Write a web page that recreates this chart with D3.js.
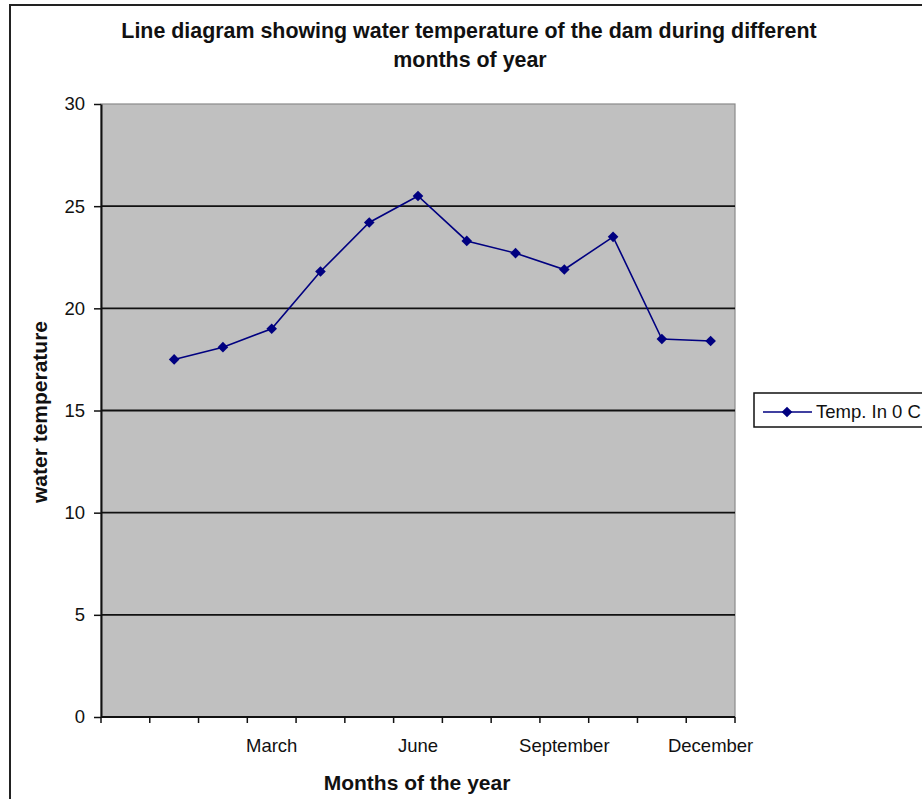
<!DOCTYPE html>
<html>
<head>
<meta charset="utf-8">
<script src="https://cdn.jsdelivr.net/npm/d3@7"></script>
<style>
  html, body { margin: 0; padding: 0; background: #fff; }
  svg { display: block; font-family: "Liberation Sans", Arial, sans-serif; }
</style>
</head>
<body>
<svg id="chart" width="922" height="799"></svg>
<script>
// ---- data ----
const categories = ["", "January", "February", "March", "April", "May", "June",
  "July", "August", "September", "October", "November", "December"];
const months = categories.slice(1);
const temps = [17.5, 18.1, 19.0, 21.8, 24.2, 25.5, 23.3, 22.7, 21.9, 23.5, 18.5, 18.4];
const yTicks = [0, 5, 10, 15, 20, 25, 30];
const shownLabels = ["March", "June", "September", "December"];
const seriesName = "Temp. In 0 C";
const titleLines = ["Line diagram showing water temperature of the dam during different", "months of year"];
const xTitle = "Months of the year";
const yTitle = "water temperature";

// ---- layout ----
const svg = d3.select("#chart");
const plotL = 101, plotR = 735, plotT = 104, plotB = 717;

const x = d3.scaleBand().domain(categories).range([plotL, plotR]).padding(0);
const y = d3.scaleLinear().domain([0, 30]).range([plotB, plotT]);

// outer frame
svg.append("rect").attr("x", 10).attr("y", 5).attr("width", 1000).attr("height", 1000)
  .attr("fill", "none").attr("stroke", "#222").attr("stroke-width", 2);

// plot area
svg.append("rect").attr("x", plotL).attr("y", plotT).attr("width", plotR - plotL).attr("height", plotB - plotT)
  .attr("fill", "#c0c0c0").attr("stroke", "#8a8a8a").attr("stroke-width", 1.2);

// gridlines
svg.append("g").selectAll("line").data(yTicks.filter(d => d > 0 && d < 30)).join("line")
  .attr("x1", plotL).attr("x2", plotR)
  .attr("y1", d => y(d)).attr("y2", d => y(d))
  .attr("stroke", "#111").attr("stroke-width", 1.8);

// y axis
const yAxis = svg.append("g").attr("transform", `translate(${plotL},0)`)
  .call(d3.axisLeft(y).tickValues(yTicks).tickSize(7).tickPadding(9).tickSizeOuter(0));
yAxis.select(".domain").attr("stroke", "#111").attr("stroke-width", 2);
yAxis.selectAll(".tick line").attr("stroke", "#111").attr("stroke-width", 1.5);
yAxis.selectAll(".tick text").attr("font-size", "18.5px").attr("fill", "#111")
  .attr("font-family", "'Liberation Sans', Arial, sans-serif");

// x axis labels
const xAxis = svg.append("g").attr("transform", `translate(0,${plotB})`)
  .call(d3.axisBottom(x).tickValues(shownLabels).tickSize(0).tickPadding(0));
xAxis.select(".domain").remove();
xAxis.selectAll(".tick text").attr("font-size", "18.5px").attr("fill", "#111")
  .attr("font-family", "'Liberation Sans', Arial, sans-serif")
  .attr("y", 35).attr("dy", 0);

// x tick marks at band boundaries
const boundaries = categories.map(c => x(c)).concat([plotR]);
svg.append("g").selectAll("line").data(boundaries).join("line")
  .attr("x1", d => d).attr("x2", d => d)
  .attr("y1", plotB).attr("y2", plotB + 6)
  .attr("stroke", "#111").attr("stroke-width", 1.5);
svg.append("line").attr("x1", plotL).attr("x2", plotR).attr("y1", plotB).attr("y2", plotB)
  .attr("stroke", "#111").attr("stroke-width", 2);

// series
const pts = months.map((m, i) => ({ m, v: temps[i] }));
const cx = d => x(d.m) + x.bandwidth() / 2;
svg.append("path").datum(pts)
  .attr("d", d3.line().x(cx).y(d => y(d.v)))
  .attr("fill", "none").attr("stroke", "#000080").attr("stroke-width", 1.6);
const diamond = d3.symbol().type(d3.symbolDiamond2).size(72);
svg.append("g").selectAll("path").data(pts).join("path")
  .attr("d", diamond)
  .attr("transform", d => `translate(${cx(d)},${y(d.v)})`)
  .attr("fill", "#000080");

// title
svg.append("text").attr("x", 469).attr("y", 38).attr("text-anchor", "middle")
  .attr("font-size", "21.4px").attr("font-weight", "bold").attr("fill", "#111").text(titleLines[0]);
svg.append("text").attr("x", 470).attr("y", 67).attr("text-anchor", "middle")
  .attr("font-size", "21.4px").attr("font-weight", "bold").attr("fill", "#111").text(titleLines[1]);

// axis titles
svg.append("text").attr("x", 417).attr("y", 790).attr("text-anchor", "middle")
  .attr("font-size", "21px").attr("font-weight", "bold").attr("fill", "#111").text(xTitle);
svg.append("text").attr("transform", "translate(47,412) rotate(-90)").attr("text-anchor", "middle")
  .attr("font-size", "21px").attr("font-weight", "bold").attr("fill", "#111").text(yTitle);

// legend
const lg = svg.append("g").attr("transform", "translate(754,393)");
lg.append("rect").attr("x", 0).attr("y", 0).attr("width", 220).attr("height", 34)
  .attr("fill", "#fff").attr("stroke", "#111").attr("stroke-width", 1.5);
lg.append("line").attr("x1", 9).attr("x2", 58).attr("y1", 19).attr("y2", 19)
  .attr("stroke", "#000080").attr("stroke-width", 1.6);
lg.append("path").attr("d", diamond).attr("transform", "translate(33,19)").attr("fill", "#000080");
lg.append("text").attr("x", 62).attr("y", 25).attr("font-size", "18.5px").attr("fill", "#111").text(seriesName);
</script>
</body>
</html>
